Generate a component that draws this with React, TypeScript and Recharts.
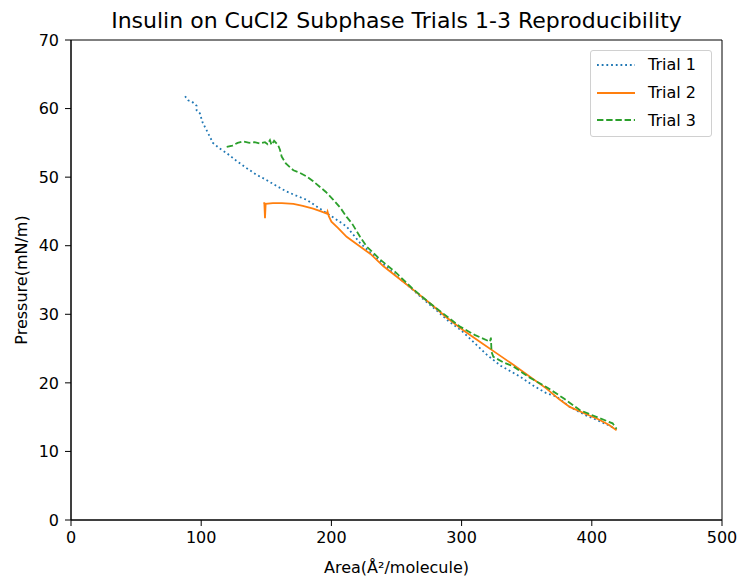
import React from "react";
import {
  LineChart,
  Line,
  XAxis,
  YAxis,
  Label,
  ReferenceArea,
} from "recharts";

const areaTicks = [0, 100, 200, 300, 400, 500];
const pressureTicks = [0, 10, 20, 30, 40, 50, 60, 70];

const trial1Area = [
  87.6, 90, 93, 96.5, 96.5, 99, 101, 104, 109, 114, 119.6, 127, 135, 142, 150,
  158, 165.6, 173, 181, 188, 196, 204, 211.7, 222, 230, 240, 250, 260, 270,
  280, 290, 300, 310, 320, 330, 345, 355, 365, 373, 383, 395, 405, 413, 419,
];
const trial1Pressure = [
  61.8, 61.2, 61.0, 60.4, 59.7, 59.3, 58.0, 56.9, 55.0, 54.2, 53.5, 52.4, 51.3,
  50.4, 49.6, 48.7, 47.9, 47.3, 46.7, 45.8, 44.8, 43.8, 42.8, 40.4, 39.0, 37.3,
  35.6, 34.0, 32.3, 30.7, 29.0, 27.6, 25.8, 24.0, 22.5, 20.9, 19.6, 18.5, 18.0,
  16.5, 15.3, 14.5, 13.8, 13.2,
];

const trial2Area = [
  147.7, 148.5, 149, 149.5, 155, 162, 170.8, 178, 186, 192, 196.4, 197, 198,
  200, 205, 211.7, 222, 230, 240, 250, 262, 275.7, 288, 301, 314, 327, 340,
  352.5, 365, 375, 383, 395, 405, 413, 419,
];
const trial2Pressure = [
  46.2, 46.2, 44.0, 46.1, 46.2, 46.2, 46.1, 45.8, 45.4, 45.0, 44.7, 45.0, 44.3,
  43.5, 42.6, 41.3, 39.9, 38.8, 37.0, 35.5, 33.7, 31.6, 29.6, 27.7, 26.0, 24.3,
  22.6, 20.9, 19.2, 17.6, 16.5, 15.5, 14.7, 13.9, 13.1,
];

const trial3Area = [
  119.6, 124, 128, 132, 137, 141, 145, 149, 151, 152.8, 154, 156, 159, 160.5,
  161.8, 165, 170.8, 176, 181, 186, 191, 196, 201.5, 207, 211.7, 216, 222, 227,
  238, 250, 262, 275.7, 288, 298.8, 310, 321.8, 322.5, 323, 324.4, 332, 339.7,
  352, 365, 378, 391, 404, 416, 419,
];
const trial3Pressure = [
  54.4, 54.6, 55.0, 55.2, 55.0, 55.1, 54.9, 55.1, 54.8, 55.4, 54.7, 55.3, 54.7,
  54.0, 53.0, 52.0, 51.0, 50.6, 50.1, 49.4, 48.6, 47.8, 46.7, 45.5, 44.2, 43.2,
  41.3, 39.9, 37.9, 36.0, 33.8, 31.6, 29.8, 28.2, 27.0, 26.0, 26.6, 24.5, 23.8,
  23.0, 22.4, 20.8, 19.4, 17.8, 16.0, 15.0, 14.1, 13.3,
];

const toPoints = (xs: number[], ys: number[]) =>
  xs.map((area, i) => ({ area, pressure: ys[i] }));

const series = [
  { name: "Trial 1", color: "#1f77b4", dash: "1.8 2.9", data: toPoints(trial1Area, trial1Pressure) },
  { name: "Trial 2", color: "#ff7f0e", dash: undefined, data: toPoints(trial2Area, trial2Pressure) },
  { name: "Trial 3", color: "#2ca02c", dash: "6.4 2.8", data: toPoints(trial3Area, trial3Pressure) },
];

const font = "'DejaVu Sans', sans-serif";

function LegendBox() {
  return (
    <div
      style={{
        position: "absolute",
        left: 590,
        top: 50,
        width: 122,
        height: 87,
        border: "1px solid #d0d0d0",
        borderRadius: 3,
        background: "rgba(255,255,255,0.8)",
        boxSizing: "border-box",
        paddingTop: 0,
        fontFamily: font,
        fontSize: 16,
        color: "#000",
      }}
    >
      {series.map((s) => (
        <div key={s.name} style={{ display: "flex", alignItems: "center", height: 27.7 }}>
          <svg width={52} height={10} style={{ marginLeft: 5 }}>
            <line
              x1={1}
              y1={5}
              x2={39}
              y2={5}
              stroke={s.color}
              strokeWidth={2}
              strokeDasharray={s.dash}
            />
          </svg>
          <span>{s.name}</span>
        </div>
      ))}
    </div>
  );
}

export default function App() {
  return (
    <div style={{ position: "absolute", left: 0, top: 0, width: 741, height: 582, background: "#fff" }}>
      <LineChart
        width={741}
        height={582}
        margin={{ top: 40, right: 19, bottom: 0, left: 0 }}
        style={{ fontFamily: font }}
      >
        <text x={396.5} y={28} textAnchor="middle" fontSize={22} fill="#000" fontFamily={font}>
          Insulin on CuCl2 Subphase Trials 1-3 Reproducibility
        </text>
        <XAxis
          dataKey="area"
          type="number"
          domain={[0, 500]}
          ticks={areaTicks}
          allowDuplicatedCategory={false}
          height={62}
          tickSize={6}
          tick={{ fill: "#000", fontSize: 16 }}
          stroke="#000"
          tickMargin={6}
        >
          <Label value="Area(Å²/molecule)" position="insideBottom" offset={9} fill="#000" fontSize={16} />
        </XAxis>
        <YAxis
          dataKey="pressure"
          type="number"
          domain={[0, 70]}
          ticks={pressureTicks}
          width={71}
          tickSize={6}
          tick={{ fill: "#000", fontSize: 16 }}
          stroke="#000"
          tickMargin={6}
        >
          <Label value="Pressure(mN/m)" angle={-90} position="insideLeft" offset={21} fill="#000" fontSize={16} style={{ textAnchor: "middle" }} />
        </YAxis>
        <ReferenceArea x1={0} x2={500} y1={0} y2={70} fill="none" stroke="#000" strokeWidth={1} ifOverflow="visible" />
        {series.map((s) => (
          <Line
            key={s.name}
            data={s.data}
            dataKey="pressure"
            name={s.name}
            type="linear"
            stroke={s.color}
            strokeWidth={1.8}
            strokeDasharray={s.dash}
            dot={false}
            isAnimationActive={false}
          />
        ))}
      </LineChart>
      <LegendBox />
    </div>
  );
}
